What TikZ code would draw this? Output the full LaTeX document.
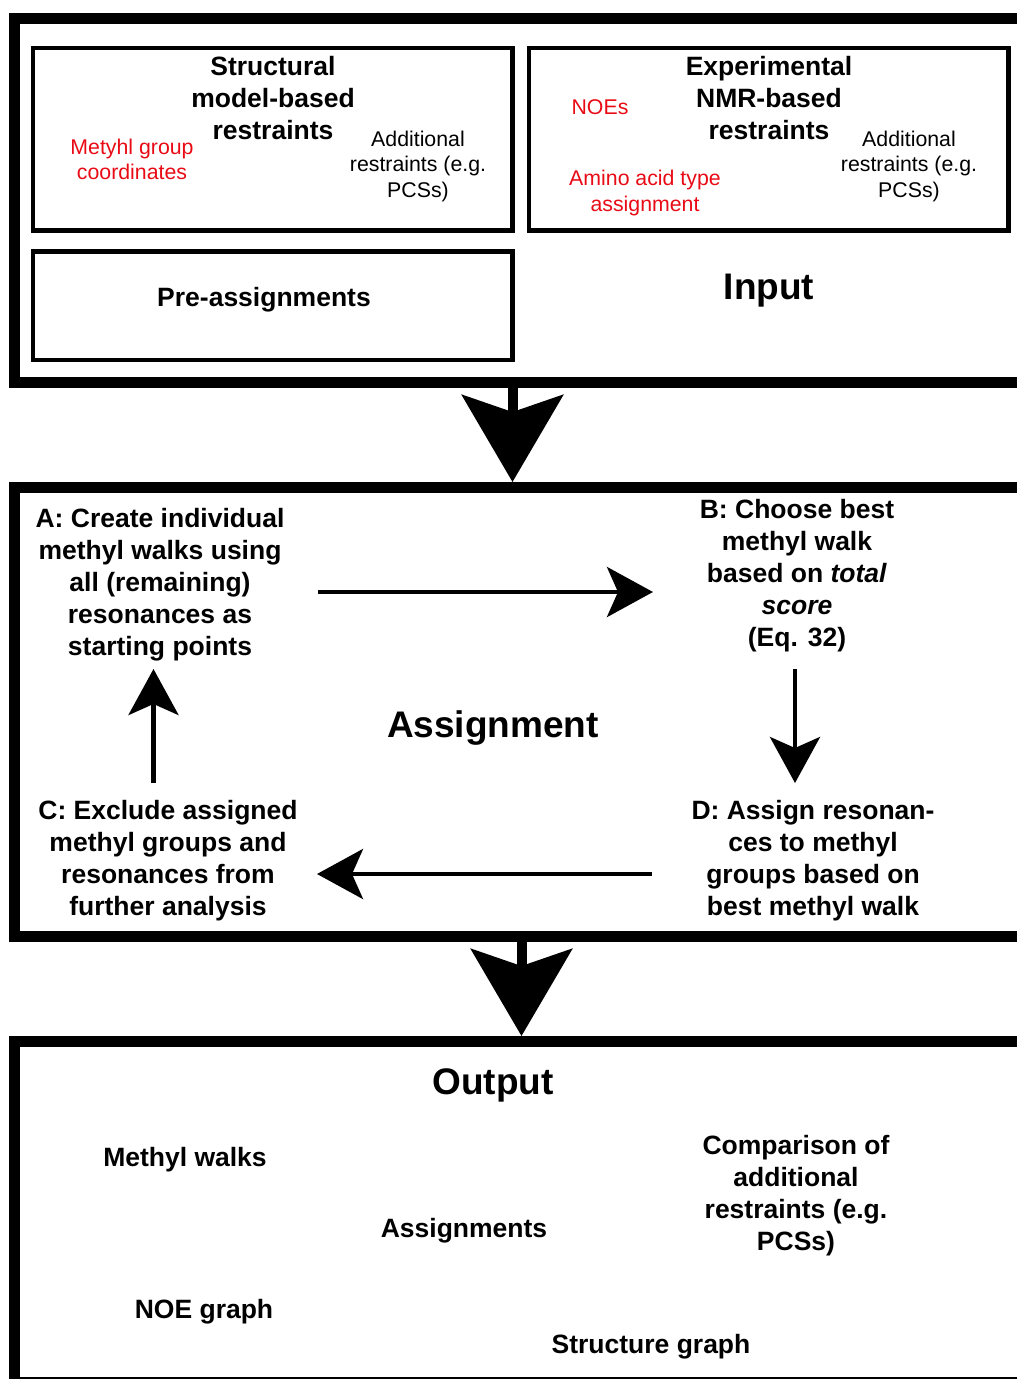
\documentclass[tikz,border=0pt]{standalone}
\usepackage{fontspec}
\setmainfont{Liberation Sans}
\usetikzlibrary{arrows.meta}
\definecolor{myred}{RGB}{232,10,20}
\begin{document}
\begin{tikzpicture}[x=1pt,y=-1pt,
  outerbox/.style={draw, line width=11pt, inner sep=0pt, outer sep=0pt},
  innerbox/.style={draw, line width=4.5pt, inner sep=0pt, outer sep=0pt},
  headtext/.style={font=\fontsize{26.5}{32}\selectfont\bfseries, align=center, inner sep=0pt},
  notetext/.style={font=\fontsize{21.3}{25.5}\selectfont, align=center, inner sep=0pt},
  redtext/.style={notetext, text=myred},
  titletext/.style={font=\fontsize{37}{44}\selectfont\bfseries, inner sep=0pt},
  stepbox/.style={font=\fontsize{26.5}{32}\selectfont\bfseries, align=center, inner sep=0pt},
  outtext/.style={font=\fontsize{26.5}{32}\selectfont\bfseries, align=center, inner sep=0pt},
  bigarrow/.style={line width=10pt, -{Stealth[length=87pt, width=101pt, inset=17pt]}},
  smallarrow/.style={line width=4.5pt, -{Stealth[length=46pt, width=50pt, inset=11pt]}},
]
\useasboundingbox (0,0) rectangle (1017,1379);
\clip (0,0) rectangle (1017,1379);

% outer boxes
\node[outerbox, minimum width=1016pt, minimum height=364pt] (input) at (522.5,200.5) {};
\node[outerbox, minimum width=1016pt, minimum height=449pt] (assign) at (522,711.5) {};
\node[outerbox, minimum width=1016pt, minimum height=341pt] (output) at (522,1211.5) {};

% inner boxes
\node[innerbox, minimum width=479.5pt, minimum height=182.5pt] (struct) at (272.75,139.25) {};
\node[innerbox, minimum width=479.5pt, minimum height=108.5pt] (pre) at (272.75,305.75) {};
\node[innerbox, minimum width=479.5pt, minimum height=182.5pt] (exp) at (768.75,139.25) {};

% input texts
\node[headtext] (structT) at (273,98) {Structural\\model-based\\restraints};
\node[redtext] (metyhl) at (132,159.5) {Metyhl group\\coordinates};
\node[notetext] (add1) at (418,166) {Additional\\restraints (e.g.\\PCSs)};
\node[headtext] (expT) at (769,98) {Experimental\\NMR-based\\restraints};
\node[redtext] (noes) at (600,107) {NOEs};
\node[redtext] (amino) at (645,193) {Amino acid type\\assignment};
\node[notetext] (add2) at (909,166) {Additional\\restraints (e.g.\\PCSs)};
\node[headtext] (preT) at (264,300) {Pre-assignments};
\node[titletext] (inputT) at (769,290.5) {Input};

% assignment section
\node[titletext] (assignT) at (493,728.5) {Assignment};
\node[stepbox] (sA) at (160,585) {A: Create individual\\methyl walks using\\all (remaining)\\resonances as\\starting points};
\node[stepbox] (sB) at (797,576) {B: Choose best\\methyl walk\\based on \textit{total}\\\textit{score}\\(Eq. 32)};
\node[stepbox] (sC) at (168,861) {C: Exclude assigned\\methyl groups and\\resonances from\\further analysis};
\node[stepbox] (sD) at (813,861) {D: Assign resonan-\\ces to methyl\\groups based on\\best methyl walk};

% output section
\node[titletext] (outputT) at (493,1085.5) {Output};
\node[outtext] (walks) at (185,1160) {Methyl walks};
\node[outtext] (assigns) at (464,1231) {Assignments};
\node[outtext] (comp) at (796,1196) {Comparison of\\additional\\restraints (e.g.\\PCSs)};
\node[outtext] (noeg) at (204,1312) {NOE graph};
\node[outtext] (structg) at (651,1347) {Structure graph};

% connector end points
\coordinate (in1) at (512.5,382);
\coordinate (in2) at (512.5,482);
\coordinate (as1) at (521.5,936);
\coordinate (as2) at (521.5,1036);
\coordinate (ab1) at (318,592);
\coordinate (ab2) at (653,592);
\coordinate (bd1) at (795,669);
\coordinate (bd2) at (795,783);
\coordinate (dc1) at (652,874);
\coordinate (dc2) at (317,874);
\coordinate (ca1) at (153.5,783);
\coordinate (ca2) at (153.5,669);

\draw[bigarrow] (in1) -- (in2);
\draw[bigarrow] (as1) -- (as2);
\draw[smallarrow] (ab1) -- (ab2);
\draw[smallarrow] (bd1) -- (bd2);
\draw[smallarrow] (dc1) -- (dc2);
\draw[smallarrow] (ca1) -- (ca2);
\end{tikzpicture}
\end{document}
